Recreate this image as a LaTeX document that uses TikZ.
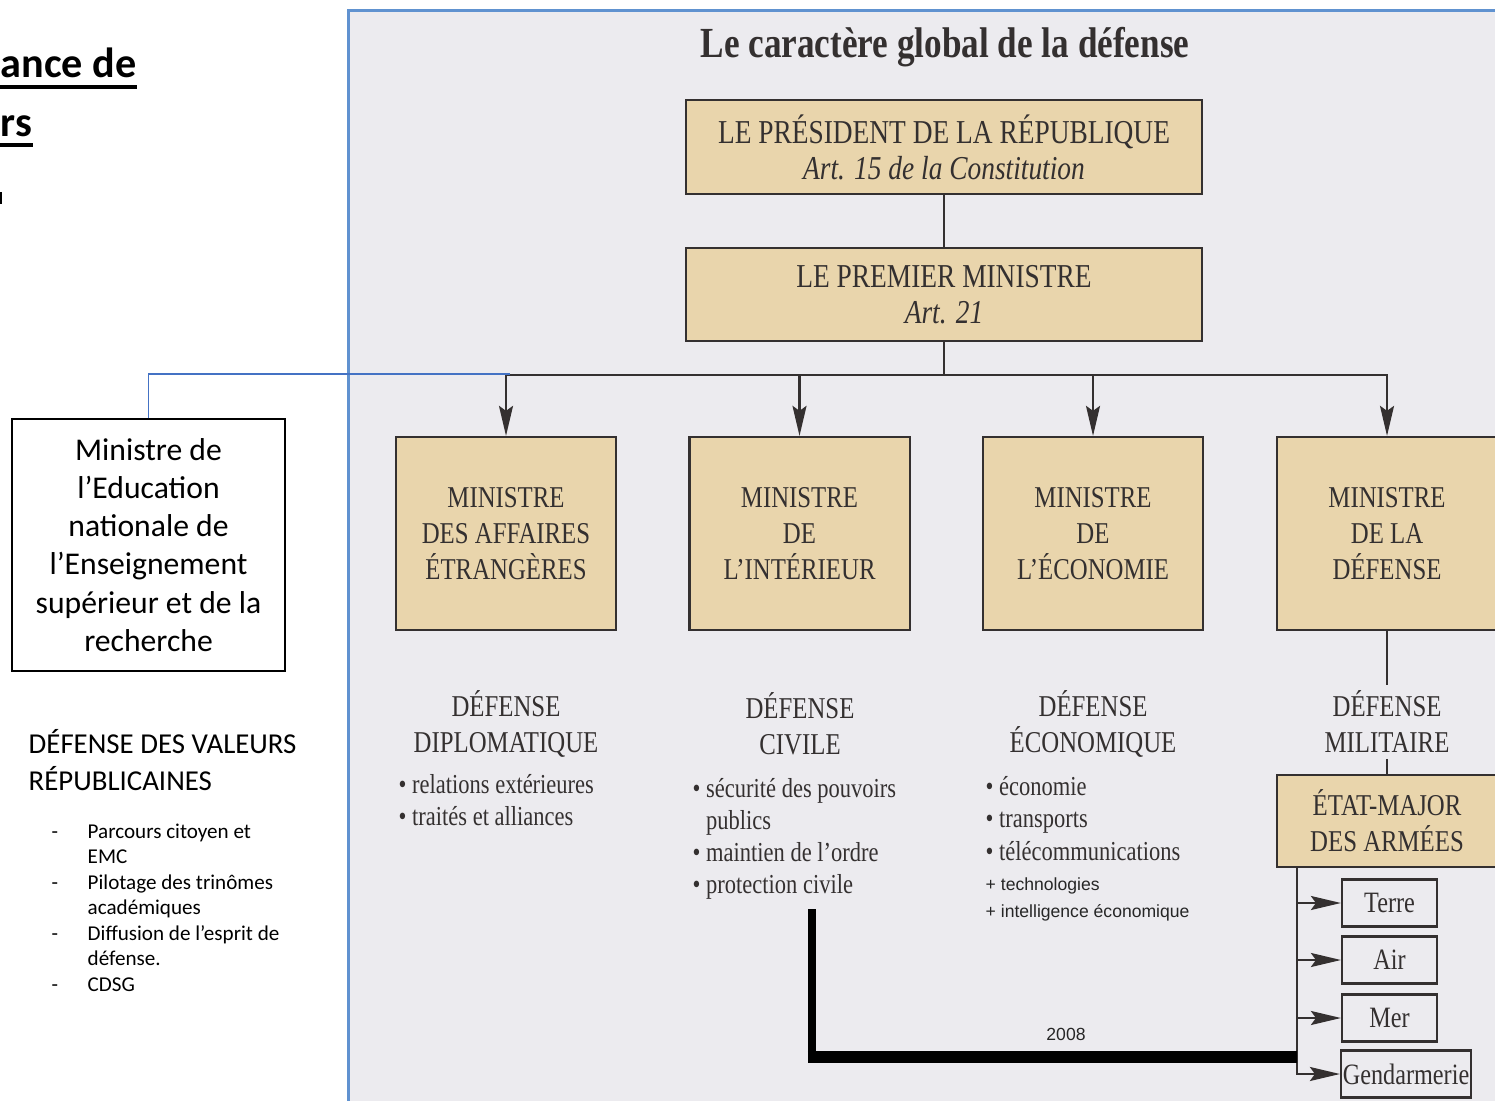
\documentclass[tikz,border=0pt]{standalone}
\usepackage{fontspec}
\setmainfont{Liberation Serif}
\newfontfamily\scanfont[FakeStretch=0.82]{Liberation Serif}
\newfontfamily\calibri{Carlito}
\newfontfamily\arialfont{Liberation Sans}
\usetikzlibrary{arrows.meta}
\tikzset{>={Stealth[length=3mm,width=1.4mm,inset=0.5mm]}}

\definecolor{scanbg}{RGB}{236,235,239}
\definecolor{tan}{RGB}{233,213,172}
\definecolor{ink}{RGB}{52,48,48}
\definecolor{frameblue}{RGB}{96,146,208}
\definecolor{linkblue}{RGB}{68,114,196}

\begin{document}
\begin{tikzpicture}[x={(0.01cm,0)}, y={(0,-0.01cm)},
    scanbox/.style={draw=ink, line width=0.6pt, fill=tan, text=ink, align=center, inner sep=0pt,
        font=\scanfont\fontsize{8.6}{10.24}\selectfont},
    minbox/.style={scanbox, minimum width=2.2cm, minimum height=1.93cm},
    armbox/.style={draw=ink, line width=0.6pt, fill=scanbg, text=ink, inner sep=0pt,
        minimum height=0.47cm, font=\scanfont\fontsize{8.4}{10}\selectfont},
    deflabel/.style={text=ink, align=center, inner sep=0pt, font=\scanfont\fontsize{8.6}{10.24}\selectfont},
    item/.style={text=ink, anchor=base west, inner sep=0pt, font=\scanfont\fontsize{7.8}{9}\selectfont},
    plusitem/.style={text=black!85, anchor=base west, inner sep=0pt, font=\arialfont\fontsize{5}{6}\selectfont},
    link/.style={draw=ink, line width=0.6pt},
    slideline/.style={anchor=base west, inner sep=0pt}]

    \useasboundingbox (0,0) rectangle (1495,1101);

    % left part of the slide
    \node[slideline, font=\calibri\bfseries\fontsize{12}{14}\selectfont] (titA) at (0,78) {ance de};
    \node[slideline, font=\calibri\bfseries\fontsize{12}{14}\selectfont] (titB) at (0,137) {rs};
    \draw[line width=1.1pt] ([yshift=-2.6pt]titA.base west) -- ([yshift=-2.6pt]titA.base east);
    \draw[line width=1.1pt] ([yshift=-2.2pt]titB.base west) -- ([yshift=-2.2pt]titB.base east);
    \fill (0,192) rectangle (2,204);

    \node[draw, line width=0.6pt, fill=white, minimum width=2.73cm, minimum height=2.51cm, align=center,
        inner sep=0pt, font=\calibri\fontsize{9}{10.86}\selectfont] (edu) at (148.5,545)
        {Ministre de\\l’Education\\nationale de\\l’Enseignement\\supérieur et de la\\recherche};

    \node[slideline, font=\calibri\fontsize{8.2}{10}\selectfont] (valA) at (28,753) {DÉFENSE DES VALEURS};
    \node[slideline, font=\calibri\fontsize{8.2}{10}\selectfont] (valB) at (28,790) {RÉPUBLICAINES};

    \foreach \j in {0,2,4,6}
    {
        \node[slideline, font=\calibri\fontsize{6}{7.3}\selectfont] (dash\j) at (51,838+25.5*\j) {-};
    }
    \foreach \t [count=\i from 0] in {Parcours citoyen et,EMC,Pilotage des trinômes,académiques,Diffusion de l’esprit de,défense.,CDSG}
    {
        \node[slideline, font=\calibri\fontsize{6}{7.3}\selectfont] (val\i) at (87,838+25.5*\i) {\t};
    }

    % the scanned chart
    \fill[scanbg] (349,12) rectangle (1495,1101);
    \draw[frameblue, line width=0.85pt] (348,1101) -- (348,11) -- (1495,11);

    \node[text=ink, anchor=base, inner sep=0pt, font=\scanfont\bfseries\fontsize{12.2}{14}\selectfont] (title) at (945,58)
        {Le caractère global de la défense};

    \node[scanbox, minimum width=5.16cm, minimum height=0.94cm, font=\scanfont\fontsize{9.5}{10.24}\selectfont] (pres) at (944,147)
        {LE PRÉSIDENT DE LA RÉPUBLIQUE\\\textit{Art. 15 de la Constitution}};
    \node[scanbox, minimum width=5.16cm, minimum height=0.93cm, font=\scanfont\fontsize{9.5}{10.24}\selectfont] (pm) at (944,294.5)
        {LE PREMIER MINISTRE\\\textit{Art. 21}};

    \node[minbox] (maff) at (506,533.5) {MINISTRE\\DES AFFAIRES\\ÉTRANGÈRES};
    \node[minbox] (mint) at (799.5,533.5) {MINISTRE\\DE\\L’INTÉRIEUR};
    \node[minbox] (meco) at (1093,533.5) {MINISTRE\\DE\\L’ÉCONOMIE};
    \node[minbox] (mdef) at (1387,533.5) {MINISTRE\\DE LA\\DÉFENSE};

    \coordinate (bus) at (944,375);
    \draw[link] (pres) -- (pm);
    \draw[link] (pm) -- (bus);
    \foreach \m in {maff,mint,meco,mdef}
    {
        \draw[link,->] (bus) -| (\m.north);
    }

    % link from the education ministry
    \coordinate (bluend) at (510,374);
    \draw[linkblue, line width=0.45pt] (edu.north) |- (bluend);

    \node[deflabel] (ldip) at (506,724) {DÉFENSE\\DIPLOMATIQUE};
    \node[deflabel] (lciv) at (800,724) {DÉFENSE\\CIVILE};
    \node[deflabel] (leco) at (1093,724) {DÉFENSE\\ÉCONOMIQUE};
    \node[deflabel, inner ysep=1.5pt] (lmil) at (1387,722) {DÉFENSE\\MILITAIRE};

    \foreach \t [count=\i from 0] in {{• relations extérieures},{• traités et alliances}}
    {
        \node[item] (dip\i) at (398,793+32*\i) {\t};
    }
    \foreach \t [count=\i from 0] in {{• sécurité des pouvoirs},{\hphantom{• }publics},{• maintien de l’ordre},{• protection civile}}
    {
        \node[item] (civ\i) at (692,797+32*\i) {\t};
    }
    \foreach \t [count=\i from 0] in {{• économie},{• transports},{• télécommunications}}
    {
        \node[item] (eco\i) at (985,795+32.5*\i) {\t};
    }
    \foreach \t [count=\i from 0] in {{+ technologies},{+ intelligence économique}}
    {
        \node[plusitem] (plus\i) at (985,890+27*\i) {\t};
    }

    \node[scanbox, minimum width=2.2cm, minimum height=0.92cm] (ema) at (1387,821) {ÉTAT-MAJOR\\DES ARMÉES};
    \draw[link] (mdef) -- (lmil);
    \draw[link] (lmil) -- (ema);

    \node[armbox, minimum width=0.95cm] (terre) at (1389.5,903) {Terre};
    \node[armbox, minimum width=0.95cm] (air) at (1389.5,960) {Air};
    \node[armbox, minimum width=0.95cm] (mer) at (1389.5,1018) {Mer};
    \node[armbox, minimum width=1.3cm] (gend) at (1406,1074) {Gendarmerie};

    \coordinate (trunk) at (1297,867);
    \foreach \a in {terre,air,mer}
    {
        \draw[link,->] (trunk |- \a.west) -- (\a.west);
    }
    \draw[link,->] (trunk) |- (gend.west);

    % 2008
    \coordinate (k1) at (812,909);
    \coordinate (k2) at (1297,1057);
    \draw[black, line width=2.3pt] (k1) -- (k1 |- k2);
    \draw[black, line width=3.4pt] ([xshift=-1.15pt]k1 |- k2) -- (k2);
    \node[text=black!85, anchor=base, inner sep=0pt, font=\arialfont\fontsize{5}{6}\selectfont] (yr) at (1066,1040) {2008};

\end{tikzpicture}
\end{document}
